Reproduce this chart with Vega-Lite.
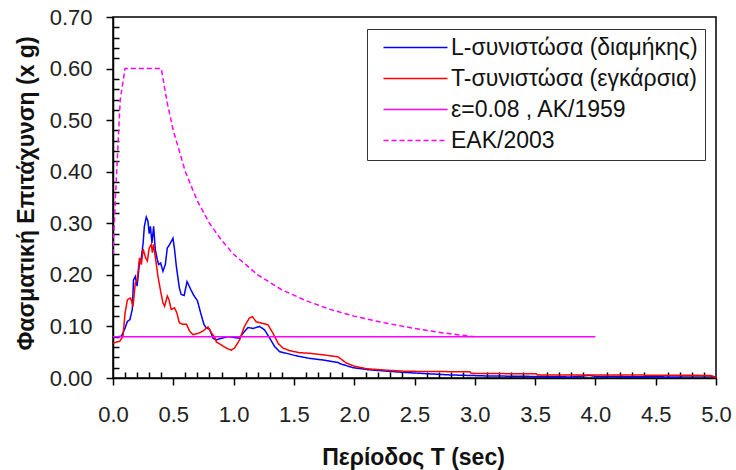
{
  "$schema": "https://vega.github.io/schema/vega-lite/v6.json",
  "autosize": {"type": "none"},
  "padding": {"left": 113, "top": 17, "right": 20, "bottom": 92},
  "width": 603,
  "height": 361,
  "background": "white",
  "config": {
    "view": {"stroke": "black", "strokeWidth": 1.5},
    "axis": {
      "labelFont": "Liberation Sans",
      "titleFont": "Liberation Sans",
      "labelFontSize": 22,
      "titleFontSize": 23,
      "titleFontWeight": "bold",
      "labelColor": "#222",
      "titleColor": "#111",
      "domainColor": "black",
      "domainWidth": 1.5,
      "tickColor": "black",
      "tickWidth": 1.5,
      "grid": false,
      "labelFlush": false,
      "labelOverlap": false
    }
  },
  "data": {
    "values": [
      {"s": "L", "T": 0, "a": 0.080}, {"s": "L", "T": 0.04, "a": 0.080}, {"s": "L", "T": 0.07, "a": 0.081},
      {"s": "L", "T": 0.10, "a": 0.097}, {"s": "L", "T": 0.12, "a": 0.110}, {"s": "L", "T": 0.14, "a": 0.113},
      {"s": "L", "T": 0.16, "a": 0.133}, {"s": "L", "T": 0.17, "a": 0.190}, {"s": "L", "T": 0.185, "a": 0.197},
      {"s": "L", "T": 0.20, "a": 0.178}, {"s": "L", "T": 0.22, "a": 0.223}, {"s": "L", "T": 0.235, "a": 0.233},
      {"s": "L", "T": 0.25, "a": 0.262}, {"s": "L", "T": 0.26, "a": 0.294}, {"s": "L", "T": 0.276, "a": 0.312},
      {"s": "L", "T": 0.29, "a": 0.304}, {"s": "L", "T": 0.30, "a": 0.280}, {"s": "L", "T": 0.31, "a": 0.294},
      {"s": "L", "T": 0.323, "a": 0.262}, {"s": "L", "T": 0.337, "a": 0.294}, {"s": "L", "T": 0.35, "a": 0.250},
      {"s": "L", "T": 0.367, "a": 0.230}, {"s": "L", "T": 0.378, "a": 0.220}, {"s": "L", "T": 0.395, "a": 0.223},
      {"s": "L", "T": 0.414, "a": 0.207}, {"s": "L", "T": 0.434, "a": 0.220}, {"s": "L", "T": 0.45, "a": 0.252},
      {"s": "L", "T": 0.47, "a": 0.259}, {"s": "L", "T": 0.497, "a": 0.271}, {"s": "L", "T": 0.51, "a": 0.250},
      {"s": "L", "T": 0.525, "a": 0.217}, {"s": "L", "T": 0.55, "a": 0.175}, {"s": "L", "T": 0.565, "a": 0.162},
      {"s": "L", "T": 0.59, "a": 0.160}, {"s": "L", "T": 0.614, "a": 0.187}, {"s": "L", "T": 0.644, "a": 0.172},
      {"s": "L", "T": 0.67, "a": 0.160}, {"s": "L", "T": 0.70, "a": 0.150}, {"s": "L", "T": 0.727, "a": 0.126},
      {"s": "L", "T": 0.754, "a": 0.104}, {"s": "L", "T": 0.773, "a": 0.097}, {"s": "L", "T": 0.80, "a": 0.095},
      {"s": "L", "T": 0.83, "a": 0.077}, {"s": "L", "T": 0.857, "a": 0.074}, {"s": "L", "T": 0.898, "a": 0.077},
      {"s": "L", "T": 0.954, "a": 0.080}, {"s": "L", "T": 0.995, "a": 0.079}, {"s": "L", "T": 1.05, "a": 0.077},
      {"s": "L", "T": 1.078, "a": 0.087}, {"s": "L", "T": 1.12, "a": 0.098}, {"s": "L", "T": 1.16, "a": 0.096},
      {"s": "L", "T": 1.216, "a": 0.100}, {"s": "L", "T": 1.258, "a": 0.093}, {"s": "L", "T": 1.30, "a": 0.077},
      {"s": "L", "T": 1.34, "a": 0.061}, {"s": "L", "T": 1.382, "a": 0.051}, {"s": "L", "T": 1.437, "a": 0.048},
      {"s": "L", "T": 1.52, "a": 0.043}, {"s": "L", "T": 1.63, "a": 0.038}, {"s": "L", "T": 1.74, "a": 0.035},
      {"s": "L", "T": 1.866, "a": 0.030}, {"s": "L", "T": 1.88, "a": 0.028}, {"s": "L", "T": 1.99, "a": 0.020},
      {"s": "L", "T": 2.12, "a": 0.016}, {"s": "L", "T": 2.34, "a": 0.012}, {"s": "L", "T": 2.55, "a": 0.009},
      {"s": "L", "T": 2.79, "a": 0.006}, {"s": "L", "T": 3.1, "a": 0.004}, {"s": "L", "T": 3.51, "a": 0.003},
      {"s": "L", "T": 3.81, "a": 0.002}, {"s": "L", "T": 3.95, "a": 0.005}, {"s": "L", "T": 4.0, "a": 0.003},
      {"s": "L", "T": 4.7, "a": 0.002}, {"s": "L", "T": 4.72, "a": 0.004}, {"s": "L", "T": 4.95, "a": 0.004},
      {"s": "L", "T": 5.0, "a": 0.002},

      {"s": "T", "T": 0, "a": 0.068}, {"s": "T", "T": 0.055, "a": 0.071}, {"s": "T", "T": 0.083, "a": 0.081},
      {"s": "T", "T": 0.10, "a": 0.126}, {"s": "T", "T": 0.12, "a": 0.152}, {"s": "T", "T": 0.146, "a": 0.155},
      {"s": "T", "T": 0.166, "a": 0.139}, {"s": "T", "T": 0.185, "a": 0.184}, {"s": "T", "T": 0.20, "a": 0.190},
      {"s": "T", "T": 0.22, "a": 0.233}, {"s": "T", "T": 0.235, "a": 0.220}, {"s": "T", "T": 0.25, "a": 0.250},
      {"s": "T", "T": 0.27, "a": 0.233}, {"s": "T", "T": 0.285, "a": 0.227}, {"s": "T", "T": 0.30, "a": 0.252},
      {"s": "T", "T": 0.318, "a": 0.259}, {"s": "T", "T": 0.326, "a": 0.243}, {"s": "T", "T": 0.337, "a": 0.259},
      {"s": "T", "T": 0.35, "a": 0.236}, {"s": "T", "T": 0.373, "a": 0.197}, {"s": "T", "T": 0.395, "a": 0.168},
      {"s": "T", "T": 0.414, "a": 0.146}, {"s": "T", "T": 0.428, "a": 0.139}, {"s": "T", "T": 0.45, "a": 0.159},
      {"s": "T", "T": 0.464, "a": 0.152}, {"s": "T", "T": 0.483, "a": 0.133}, {"s": "T", "T": 0.51, "a": 0.136},
      {"s": "T", "T": 0.53, "a": 0.126}, {"s": "T", "T": 0.55, "a": 0.107}, {"s": "T", "T": 0.58, "a": 0.104},
      {"s": "T", "T": 0.61, "a": 0.104}, {"s": "T", "T": 0.635, "a": 0.091}, {"s": "T", "T": 0.663, "a": 0.084},
      {"s": "T", "T": 0.70, "a": 0.086}, {"s": "T", "T": 0.746, "a": 0.091}, {"s": "T", "T": 0.787, "a": 0.099},
      {"s": "T", "T": 0.815, "a": 0.088}, {"s": "T", "T": 0.843, "a": 0.079}, {"s": "T", "T": 0.857, "a": 0.070},
      {"s": "T", "T": 0.898, "a": 0.064}, {"s": "T", "T": 0.94, "a": 0.058}, {"s": "T", "T": 0.98, "a": 0.054},
      {"s": "T", "T": 1.008, "a": 0.058}, {"s": "T", "T": 1.05, "a": 0.074}, {"s": "T", "T": 1.09, "a": 0.100},
      {"s": "T", "T": 1.13, "a": 0.116}, {"s": "T", "T": 1.155, "a": 0.119}, {"s": "T", "T": 1.188, "a": 0.109},
      {"s": "T", "T": 1.24, "a": 0.106}, {"s": "T", "T": 1.285, "a": 0.103}, {"s": "T", "T": 1.326, "a": 0.087},
      {"s": "T", "T": 1.37, "a": 0.067}, {"s": "T", "T": 1.41, "a": 0.058}, {"s": "T", "T": 1.465, "a": 0.053},
      {"s": "T", "T": 1.548, "a": 0.049}, {"s": "T", "T": 1.63, "a": 0.048}, {"s": "T", "T": 1.74, "a": 0.045},
      {"s": "T", "T": 1.866, "a": 0.041}, {"s": "T", "T": 1.935, "a": 0.029}, {"s": "T", "T": 2.0, "a": 0.023},
      {"s": "T", "T": 2.1, "a": 0.018}, {"s": "T", "T": 2.28, "a": 0.015}, {"s": "T", "T": 2.43, "a": 0.013},
      {"s": "T", "T": 2.96, "a": 0.012}, {"s": "T", "T": 2.97, "a": 0.009}, {"s": "T", "T": 3.51, "a": 0.008},
      {"s": "T", "T": 3.52, "a": 0.006}, {"s": "T", "T": 4.0, "a": 0.006}, {"s": "T", "T": 4.95, "a": 0.005},
      {"s": "T", "T": 5.0, "a": 0.001},

      {"s": "AK", "T": 0, "a": 0.08}, {"s": "AK", "T": 4.0, "a": 0.08},

      {"s": "EAK", "T": 0, "a": 0.24}, {"s": "EAK", "T": 0.02, "a": 0.35}, {"s": "EAK", "T": 0.06, "a": 0.54},
      {"s": "EAK", "T": 0.1, "a": 0.6}, {"s": "EAK", "T": 0.4, "a": 0.6}, {"s": "EAK", "T": 0.45, "a": 0.533},
      {"s": "EAK", "T": 0.5, "a": 0.48}, {"s": "EAK", "T": 0.6, "a": 0.4}, {"s": "EAK", "T": 0.7, "a": 0.343},
      {"s": "EAK", "T": 0.8, "a": 0.3}, {"s": "EAK", "T": 0.9, "a": 0.267}, {"s": "EAK", "T": 1.0, "a": 0.24},
      {"s": "EAK", "T": 1.2, "a": 0.2}, {"s": "EAK", "T": 1.4, "a": 0.171}, {"s": "EAK", "T": 1.6, "a": 0.15},
      {"s": "EAK", "T": 1.8, "a": 0.133}, {"s": "EAK", "T": 2.0, "a": 0.12}, {"s": "EAK", "T": 2.25, "a": 0.107},
      {"s": "EAK", "T": 2.5, "a": 0.096}, {"s": "EAK", "T": 2.75, "a": 0.087}, {"s": "EAK", "T": 3.0, "a": 0.08}
    ]
  },
  "layer": [
    {
      "mark": {"type": "line", "strokeWidth": 1.5, "clip": true},
      "encoding": {
        "x": {
          "field": "T", "type": "quantitative",
          "scale": {"domain": [0, 5], "nice": false, "zero": false},
          "axis": {
            "orient": "bottom",
            "values": [0, 0.5, 1, 1.5, 2, 2.5, 3, 3.5, 4, 4.5, 5],
            "format": ".1f",
            "tickSize": 7,
            "labelPadding": 19,
            "title": "Περίοδος Τ (sec)",
            "titleX": 300,
            "titleY": 86,
            "titleAlign": "center",
            "titleBaseline": "alphabetic"
          }
        },
        "y": {
          "field": "a", "type": "quantitative",
          "scale": {"domain": [0, 0.7], "nice": false, "zero": false},
          "axis": {
            "orient": "left",
            "values": [0, 0.1, 0.2, 0.3, 0.4, 0.5, 0.6, 0.7],
            "format": ".2f",
            "tickSize": 7,
            "labelPadding": 14,
            "title": "Φασματική Επιτάχυνση (x g)",
            "titleX": -87,
            "titleY": 176,
            "titleAngle": 270,
            "titleAlign": "center",
            "titleBaseline": "middle"
          }
        },
        "color": {
          "field": "s", "type": "nominal",
          "scale": {"domain": ["L", "T", "AK", "EAK"], "range": ["#0000ff", "#ff0000", "#ff00ff", "#ff00ff"]},
          "legend": {
            "orient": "none", "legendX": 254, "legendY": 12, "title": null,
            "symbolType": "M-16,0H16", "symbolSize": 16, "symbolStrokeWidth": 1.5,
            "symbolFillColor": "transparent",
            "symbolOffset": 30, "labelOffset": 24, "padding": 7, "rowPadding": 7,
            "labelFont": "Liberation Sans", "labelFontSize": 23, "labelColor": "#111", "labelLimit": 400,
            "strokeColor": "#333", "fillColor": "white",
            "labelExpr": "{'L': 'L-συνιστώσα (διαμήκης)', 'T': 'T-συνιστώσα (εγκάρσια)', 'AK': 'ε=0.08 ,  ΑΚ/1959', 'EAK': 'ΕΑΚ/2003'}[datum.label]"
          }
        },
        "strokeDash": {
          "field": "s", "type": "nominal",
          "scale": {"domain": ["L", "T", "AK", "EAK"], "range": [[1, 0], [1, 0], [1, 0], [5, 3]]},
          "legend": {
            "orient": "none", "legendX": 254, "legendY": 12, "title": null,
            "symbolType": "M-16,0H16", "symbolSize": 16, "symbolStrokeWidth": 1.5,
            "symbolFillColor": "transparent",
            "symbolOffset": 30, "labelOffset": 24, "padding": 7, "rowPadding": 7,
            "labelFont": "Liberation Sans", "labelFontSize": 23, "labelColor": "#111", "labelLimit": 400,
            "strokeColor": "#333", "fillColor": "white",
            "labelExpr": "{'L': 'L-συνιστώσα (διαμήκης)', 'T': 'T-συνιστώσα (εγκάρσια)', 'AK': 'ε=0.08 ,  ΑΚ/1959', 'EAK': 'ΕΑΚ/2003'}[datum.label]"
          }
        }
      }
    },
    {
      "mark": {"type": "point", "opacity": 0},
      "encoding": {
        "x": {
          "field": "T", "type": "quantitative",
          "axis": {
            "orient": "bottom",
            "values": [0.1, 0.2, 0.3, 0.4, 0.6, 0.7, 0.8, 0.9, 1.1, 1.2, 1.3, 1.4, 1.6, 1.7, 1.8, 1.9, 2.1, 2.2, 2.3, 2.4, 2.6, 2.7, 2.8, 2.9, 3.1, 3.2, 3.3, 3.4, 3.6, 3.7, 3.8, 3.9, 4.1, 4.2, 4.3, 4.4, 4.6, 4.7, 4.8, 4.9],
            "tickSize": -6, "labels": false, "domain": false, "title": null
          }
        },
        "y": {
          "field": "a", "type": "quantitative",
          "axis": {
            "orient": "left",
            "values": [0.02, 0.04, 0.06, 0.08, 0.12, 0.14, 0.16, 0.18, 0.22, 0.24, 0.26, 0.28, 0.32, 0.34, 0.36, 0.38, 0.42, 0.44, 0.46, 0.48, 0.52, 0.54, 0.56, 0.58, 0.62, 0.64, 0.66, 0.68],
            "tickSize": -6, "labels": false, "domain": false, "title": null
          }
        }
      }
    }
  ],
  "resolve": {"axis": {"x": "independent", "y": "independent"}}
}
